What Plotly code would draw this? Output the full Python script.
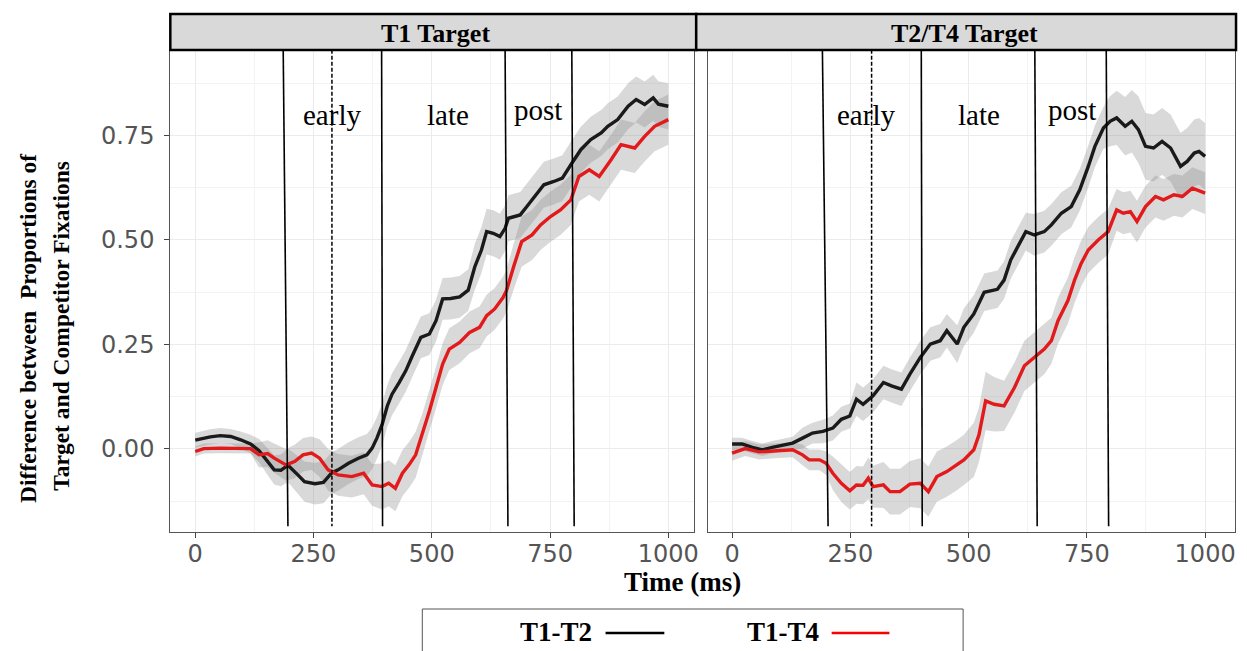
import plotly.graph_objects as go

# ---------------- data ----------------
# Panel 1: T1 Target
p1_t12_time = [0, 32, 53, 75, 96, 117, 135, 153, 167, 181, 196, 217, 231, 253, 271, 288, 302, 324, 345, 363,
               374, 384, 395, 406, 416, 431, 445, 459, 477, 495, 509, 523, 540, 559, 577, 591, 605, 616, 630, 644,
               655, 662, 687, 701, 715, 737, 758, 776, 794, 815, 836, 858, 872, 893, 915, 932, 950, 968, 979, 1000]
p1_t12_mean = [0.021, 0.029, 0.032, 0.030, 0.022, 0.012, -0.004, -0.030, -0.050, -0.051, -0.039, -0.062, -0.078,
               -0.083, -0.080, -0.058, -0.050, -0.034, -0.022, -0.014, 0.002, 0.026, 0.058, 0.103, 0.131, 0.159,
               0.187, 0.223, 0.267, 0.275, 0.307, 0.359, 0.360, 0.364, 0.380, 0.436, 0.476, 0.520, 0.516, 0.508,
               0.528, 0.552, 0.560, 0.580, 0.600, 0.632, 0.640, 0.648, 0.680, 0.716, 0.740, 0.756, 0.772, 0.788,
               0.820, 0.836, 0.824, 0.840, 0.825, 0.820]
p1_t12_se = [0.018, 0.018, 0.018, 0.018, 0.020, 0.022, 0.028, 0.032, 0.035, 0.038, 0.040, 0.045, 0.048, 0.050,
             0.050, 0.050, 0.050, 0.050, 0.050, 0.050, 0.050, 0.050, 0.050, 0.050, 0.050, 0.050, 0.050, 0.050,
             0.050, 0.050, 0.050, 0.050, 0.050, 0.050, 0.050, 0.055, 0.055, 0.055, 0.055, 0.055, 0.055, 0.055,
             0.055, 0.055, 0.055, 0.055, 0.055, 0.055, 0.055, 0.055, 0.055, 0.055, 0.055, 0.055, 0.055, 0.055,
             0.055, 0.055, 0.055, 0.055]

p1_t14_time = [0, 18, 53, 89, 117, 135, 153, 167, 192, 210, 228, 246, 263, 281, 302, 331, 356, 374, 395, 409,
               423, 438, 452, 466, 480, 495, 509, 523, 537, 559, 580, 601, 616, 633, 651, 658, 673, 690, 712, 730,
               751, 772, 794, 811, 833, 854, 879, 900, 929, 950, 971, 1000]
p1_t14_mean = [-0.006, 0.001, 0.002, 0.002, 0.001, -0.014, -0.011, -0.022, -0.038, -0.030, -0.014, -0.010, -0.022,
               -0.050, -0.062, -0.066, -0.058, -0.086, -0.090, -0.082, -0.094, -0.058, -0.038, -0.014, 0.034, 0.091,
               0.147, 0.203, 0.239, 0.255, 0.279, 0.291, 0.319, 0.335, 0.363, 0.379, 0.436, 0.496, 0.512, 0.536,
               0.556, 0.572, 0.596, 0.652, 0.668, 0.652, 0.692, 0.728, 0.720, 0.748, 0.772, 0.788]
p1_t14_se = [0.012, 0.012, 0.012, 0.012, 0.012, 0.030, 0.032, 0.035, 0.038, 0.040, 0.040, 0.040, 0.045, 0.050,
             0.050, 0.050, 0.050, 0.050, 0.055, 0.055, 0.055, 0.055, 0.055, 0.055, 0.050, 0.050, 0.050, 0.050,
             0.050, 0.050, 0.050, 0.050, 0.050, 0.050, 0.050, 0.050, 0.055, 0.060, 0.060, 0.060, 0.060, 0.060,
             0.060, 0.060, 0.060, 0.060, 0.060, 0.060, 0.060, 0.060, 0.060, 0.060]

# Panel 2: T2/T4 Target
p2_t12_time = [0, 21, 43, 64, 85, 107, 128, 149, 170, 192, 213, 231, 249, 263, 277, 298, 320, 337, 358, 376,
               398, 419, 440, 454, 476, 490, 511, 533, 561, 575, 589, 604, 621, 639, 660, 675, 696, 717, 735, 753,
               767, 785, 799, 813, 831, 845, 859, 874, 891, 909, 927, 948, 962, 977, 987, 1000]
p2_t12_mean = [0.012, 0.012, 0.004, -0.002, 0.004, 0.010, 0.014, 0.026, 0.038, 0.042, 0.050, 0.071, 0.079, 0.119,
               0.107, 0.127, 0.159, 0.151, 0.143, 0.179, 0.219, 0.251, 0.259, 0.283, 0.251, 0.291, 0.323, 0.375,
               0.382, 0.404, 0.452, 0.484, 0.520, 0.512, 0.520, 0.536, 0.564, 0.580, 0.620, 0.676, 0.724, 0.768,
               0.784, 0.792, 0.772, 0.784, 0.764, 0.724, 0.720, 0.736, 0.720, 0.676, 0.688, 0.708, 0.712, 0.700]
p2_t12_se = [0.015, 0.015, 0.015, 0.015, 0.015, 0.015, 0.015, 0.025, 0.025, 0.028, 0.030, 0.030, 0.030, 0.040,
             0.040, 0.040, 0.040, 0.040, 0.040, 0.040, 0.040, 0.040, 0.040, 0.040, 0.045, 0.045, 0.045, 0.045,
             0.045, 0.045, 0.045, 0.045, 0.045, 0.050, 0.050, 0.050, 0.050, 0.050, 0.050, 0.050, 0.050, 0.050,
             0.060, 0.065, 0.070, 0.075, 0.080, 0.080, 0.080, 0.080, 0.080, 0.080, 0.080, 0.080, 0.080, 0.080]

p2_t14_time = [0, 28, 57, 92, 128, 149, 163, 185, 199, 213, 231, 249, 263, 277, 288, 298, 320, 334, 355, 376,
               398, 415, 433, 454, 476, 490, 511, 522, 536, 554, 575, 597, 618, 639, 660, 675, 689, 710, 724, 738,
               753, 774, 795, 813, 827, 842, 856, 874, 895, 912, 934, 952, 973, 1000]
p2_t14_mean = [-0.010, 0.001, -0.007, -0.004, -0.002, -0.014, -0.026, -0.026, -0.034, -0.058, -0.082, -0.100,
               -0.086, -0.087, -0.070, -0.090, -0.086, -0.102, -0.102, -0.084, -0.082, -0.102, -0.066, -0.054,
               -0.038, -0.026, -0.002, 0.034, 0.115, 0.107, 0.103, 0.147, 0.199, 0.219, 0.239, 0.259, 0.307,
               0.355, 0.404, 0.444, 0.476, 0.500, 0.520, 0.572, 0.564, 0.568, 0.544, 0.580, 0.604, 0.596, 0.608,
               0.604, 0.624, 0.612]
p2_t14_se = [0.018, 0.018, 0.018, 0.018, 0.018, 0.025, 0.025, 0.025, 0.028, 0.040, 0.045, 0.045, 0.045, 0.045,
             0.050, 0.050, 0.055, 0.055, 0.055, 0.055, 0.060, 0.060, 0.060, 0.060, 0.060, 0.060, 0.065, 0.065,
             0.070, 0.065, 0.060, 0.060, 0.060, 0.060, 0.060, 0.055, 0.055, 0.055, 0.055, 0.055, 0.055, 0.055,
             0.055, 0.050, 0.050, 0.050, 0.050, 0.050, 0.050, 0.050, 0.050, 0.050, 0.050, 0.050]

# Window boundaries (ms), drawn by hand in the original: top / bottom ends
p1_bound_top = [186, 394, 655, 796]
p1_bound_bot = [196, 396, 661, 801]
p1_dashed = 289
p2_bound_top = [191, 400, 640, 791]
p2_bound_bot = [203, 402, 645, 796]
p2_dashed = 295

window_labels = ["early", "late", "post"]
p1_label_x = [289, 534, 724]
p2_label_x = [284, 523, 718]
label_y = [0.80, 0.80, 0.81]

panel_titles = ["T1 Target", "T2/T4 Target"]
series_names = ["T1-T2", "T1-T4"]
x_ticks = [0, 250, 500, 750, 1000]
y_ticks = [0.0, 0.25, 0.50, 0.75]

# ---------------- layout helpers (pixel -> paper) ----------------
W, H = 1247, 651
def px(x):
    return x / W
def py(y):
    return 1 - y / H

BLACK = "#1a1a1a"
RED = "#e31a1c"
RIBBON = "rgba(140,140,140,0.33)"
SERIF = "Liberation Serif"

fig = go.Figure()

panels = [
    ("x", "y", [(p1_t12_time, p1_t12_mean, p1_t12_se, BLACK, series_names[0]),
                (p1_t14_time, p1_t14_mean, p1_t14_se, RED, series_names[1])]),
    ("x2", "y2", [(p2_t12_time, p2_t12_mean, p2_t12_se, BLACK, series_names[0]),
                  (p2_t14_time, p2_t14_mean, p2_t14_se, RED, series_names[1])]),
]

for xa, ya, series in panels:
    for t, m, s, col, name in series:
        up = [a + b for a, b in zip(m, s)]
        lo = [a - b for a, b in zip(m, s)]
        fig.add_trace(go.Scatter(x=t + t[::-1], y=up + lo[::-1], fill="toself", fillcolor=RIBBON,
                                 line=dict(width=0), mode="lines", hoverinfo="skip",
                                 showlegend=False, xaxis=xa, yaxis=ya))
    for t, m, s, col, name in series:
        fig.add_trace(go.Scatter(x=t, y=m, mode="lines", line=dict(color=col, width=3.4),
                                 name=name, showlegend=False, xaxis=xa, yaxis=ya))

Y_TOP = 0.955
Y_BOT = -0.185
shapes = []
for xa, ya, tops, bots, dashed in [("x", "y", p1_bound_top, p1_bound_bot, p1_dashed),
                                     ("x2", "y2", p2_bound_top, p2_bound_bot, p2_dashed)]:
    for a, b in zip(tops, bots):
        shapes.append(dict(type="line", xref=xa, yref=ya, x0=a, x1=b, y0=Y_TOP, y1=Y_BOT,
                           line=dict(color="black", width=1.6), layer="above"))
    shapes.append(dict(type="line", xref=xa, yref=ya, x0=dashed, x1=dashed, y0=Y_TOP, y1=Y_BOT,
                       line=dict(color="black", width=1.5, dash="4px,2px"), layer="above"))

# facet strips
for x0, x1 in [(171, 699), (699, 1241)]:
    shapes.append(dict(type="rect", xref="paper", yref="paper", x0=px(x0), x1=px(x1), y0=py(50), y1=py(14),
                       fillcolor="#d9d9d9", line=dict(color="black", width=2.5)))

# legend box
shapes.append(dict(type="rect", xref="paper", yref="paper", x0=px(424), x1=px(967), y0=py(700), y1=py(609),
                   fillcolor="white", line=dict(color="#555555", width=1)))
shapes.append(dict(type="line", xref="paper", yref="paper", x0=px(608), x1=px(667), y0=py(633), y1=py(633),
                   line=dict(color="black", width=2.5)))
shapes.append(dict(type="line", xref="paper", yref="paper", x0=px(835), x1=px(893), y0=py(633), y1=py(633),
                   line=dict(color="#ff0000", width=2.5)))

def ann(text, x, y, size, bold=False, angle=0, xref="paper", yref="paper"):
    return dict(text=("<b>%s</b>" % text) if bold else text, xref=xref, yref=yref, x=x, y=y,
                xanchor="center", yanchor="middle", textangle=angle, showarrow=False,
                font=dict(family=SERIF, size=size, color="black"))

annotations = []
for xa, ya, xs in [("x", "y", p1_label_x), ("x2", "y2", p2_label_x)]:
    for lab, lx, ly in zip(window_labels, xs, label_y):
        annotations.append(ann(lab, lx, ly, 29, xref=xa, yref=ya))

for title, cx in zip(panel_titles, [437, 968]):
    annotations.append(ann(title, px(cx), py(33), 26, bold=True))

annotations.append(ann("Difference between\u00a0 Proportions of", px(28), py(328), 23.5, bold=True, angle=-90))
annotations.append(ann("Target and Competitor Fixations", px(61), py(326), 23.5, bold=True, angle=-90))
annotations.append(ann("Time (ms)", px(685), py(582), 27, bold=True))
annotations.append(ann(series_names[0], px(558), py(632), 27, bold=True))
annotations.append(ann(series_names[1], px(786), py(632), 27, bold=True))

tickfont = dict(family="DejaVu Sans", size=24, color="#555555")
xcommon = dict(tickvals=x_ticks, ticktext=[str(v) for v in x_ticks], ticks="outside", ticklen=5,
               tickcolor="#444444", showgrid=True, gridcolor="#ebebeb", gridwidth=1.2,
               minor=dict(dtick=125, tick0=0, showgrid=True, gridcolor="#f3f3f3", gridwidth=0.8, ticks=""),
               showline=True, mirror=True, linecolor="#555555", linewidth=1.2, zeroline=False,
               tickfont=tickfont, fixedrange=True, ticklabelstandoff=-5)
ycommon = dict(range=[-0.1986, 0.9545], tickvals=y_ticks, showgrid=True, gridcolor="#ebebeb", gridwidth=1.2,
               minor=dict(dtick=0.125, tick0=0, showgrid=True, gridcolor="#f3f3f3", gridwidth=0.8, ticks=""),
               showline=True, mirror=True, linecolor="#555555", linewidth=1.2, zeroline=False,
               tickfont=tickfont, fixedrange=True)

fig.update_layout(
    width=W, height=H, margin=dict(l=0, r=0, t=0, b=0),
    paper_bgcolor="white", plot_bgcolor="white", showlegend=False,
    xaxis=dict(domain=[px(171), px(697)], range=[-52.6, 1054.7], anchor="y", **xcommon),
    xaxis2=dict(domain=[px(711), px(1240)], range=[-50.5, 1063.2], anchor="y2", **xcommon),
    yaxis=dict(domain=[py(532), py(50)], anchor="x", ticks="outside", ticklen=5, tickcolor="#444444",
               ticktext=["0.00", "0.25", "0.50", "0.75"], ticklabelstandoff=5, **ycommon),
    yaxis2=dict(domain=[py(532), py(50)], anchor="x2", ticks="", showticklabels=False, **ycommon),
    shapes=shapes, annotations=annotations,
)

fig.write_html("out.html")
